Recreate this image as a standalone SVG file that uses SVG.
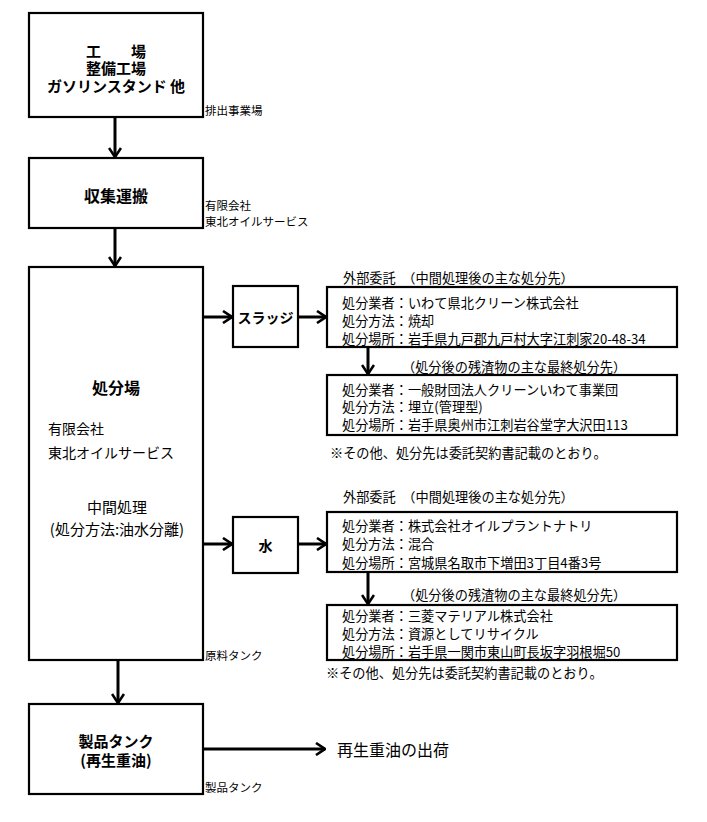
<svg xmlns="http://www.w3.org/2000/svg" width="707" height="822" viewBox="0 0 707 822">
<defs>
<style>
text{font-family:"Noto Sans CJK JP","Noto Sans",sans-serif;fill:#000;dominant-baseline:central}
.box{fill:#fff;stroke:#000;stroke-width:2.2}
.b{font-weight:bold;font-size:15px;text-anchor:middle}
.s{font-size:11.5px}
.r{font-size:13.2px}
.m{font-size:14px}
.conn line{stroke:#000;stroke-width:3;marker-end:url(#ah)}
</style>
<marker id="ah" markerUnits="userSpaceOnUse" viewBox="0 0 11 14" refX="10" refY="7" markerWidth="11" markerHeight="14" orient="auto">
<path d="M1,1 L10,7 L1,13" fill="none" stroke="#000" stroke-width="2.6"/>
</marker>
</defs>
<rect width="707" height="822" fill="#fff"/>

<g class="conn">
<line x1="115" y1="117" x2="115" y2="157"/>
<line x1="115" y1="228" x2="115" y2="266"/>
<line x1="203" y1="317" x2="232" y2="317"/>
<line x1="298" y1="317" x2="326" y2="317"/>
<line x1="368" y1="347" x2="368" y2="374"/>
<line x1="203" y1="544" x2="232" y2="544"/>
<line x1="298" y1="544" x2="326" y2="544"/>
<line x1="368" y1="572" x2="368" y2="604"/>
<line x1="118" y1="660" x2="118" y2="703"/>
<line x1="203" y1="749" x2="325" y2="749"/>
</g>

<g id="n-factory">
<rect class="box" x="29" y="13" width="174" height="104"/>
<text class="b"><tspan x="116" y="50">工　　場</tspan><tspan x="116" y="67">整備工場</tspan><tspan x="116" y="85">ガソリンスタンド 他</tspan></text>
<text class="s" x="205" y="110">排出事業場</text>
</g>

<g id="n-transport">
<rect class="box" x="29" y="158" width="174" height="70"/>
<text class="b" x="116" y="195" style="font-size:16px">収集運搬</text>
<text class="s"><tspan x="205" y="205">有限会社</tspan><tspan x="205" y="221">東北オイルサービス</tspan></text>
</g>

<g id="n-plant">
<rect class="box" x="29" y="267" width="174" height="393"/>
<text class="b" x="116" y="387" style="font-size:16px">処分場</text>
<text class="m"><tspan x="48" y="428">有限会社</tspan><tspan x="48" y="452">東北オイルサービス</tspan></text>
<text style="font-size:15px;text-anchor:middle"><tspan x="117" y="506">中間処理</tspan><tspan x="117" y="528">(処分方法:油水分離)</tspan></text>
<text class="s" x="205" y="655">原料タンク</text>
</g>

<g id="n-sludge">
<rect class="box" x="233" y="286" width="65" height="61"/>
<text class="b" x="265.5" y="317" style="font-size:14px">スラッジ</text>
</g>

<g id="n-sludge-mid">
<text class="r" x="343" y="277">外部委託　（中間処理後の主な処分先）</text>
<rect class="box" x="327" y="287" width="350" height="60"/>
<text class="r"><tspan x="342" y="302">処分業者：いわて県北クリーン株式会社</tspan><tspan x="342" y="320">処分方法：焼却</tspan><tspan x="342" y="338">処分場所：岩手県九戸郡九戸村大字江刺家20-48-34</tspan></text>
</g>

<g id="n-sludge-final">
<text class="r" x="402" y="366">（処分後の残渣物の主な最終処分先）</text>
<rect class="box" x="327" y="375" width="350" height="60"/>
<text class="r"><tspan x="342" y="389">処分業者：一般財団法人クリーンいわて事業団</tspan><tspan x="342" y="406">処分方法：埋立(管理型)</tspan><tspan x="342" y="424">処分場所：岩手県奥州市江刺岩谷堂字大沢田113</tspan></text>
<text class="r" x="330" y="452">※その他、処分先は委託契約書記載のとおり。</text>
</g>

<g id="n-water">
<rect class="box" x="233" y="517" width="65" height="56"/>
<text class="b" x="265.5" y="545" style="font-size:14px">水</text>
</g>

<g id="n-water-mid">
<text class="r" x="343" y="496">外部委託　（中間処理後の主な処分先）</text>
<rect class="box" x="327" y="512" width="350" height="60"/>
<text class="r"><tspan x="342" y="525">処分業者：株式会社オイルプラントナトリ</tspan><tspan x="342" y="543">処分方法：混合</tspan><tspan x="342" y="562">処分場所：宮城県名取市下増田3丁目4番3号</tspan></text>
</g>

<g id="n-water-final">
<text class="r" x="402" y="594">（処分後の残渣物の主な最終処分先）</text>
<rect class="box" x="327" y="605" width="350" height="55"/>
<text class="r"><tspan x="342" y="615">処分業者：三菱マテリアル株式会社</tspan><tspan x="342" y="633">処分方法：資源としてリサイクル</tspan><tspan x="342" y="651">処分場所：岩手県一関市東山町長坂字羽根堀50</tspan></text>
<text class="r" x="326" y="672">※その他、処分先は委託契約書記載のとおり。</text>
</g>

<g id="n-product">
<rect class="box" x="29" y="704" width="174" height="90"/>
<text class="b"><tspan x="116" y="740">製品タンク</tspan><tspan x="116" y="759">(再生重油)</tspan></text>
<text class="s" x="205" y="787">製品タンク</text>
</g>

<g id="n-ship">
<text x="337" y="749" style="font-size:16px">再生重油の出荷</text>
</g>
</svg>
